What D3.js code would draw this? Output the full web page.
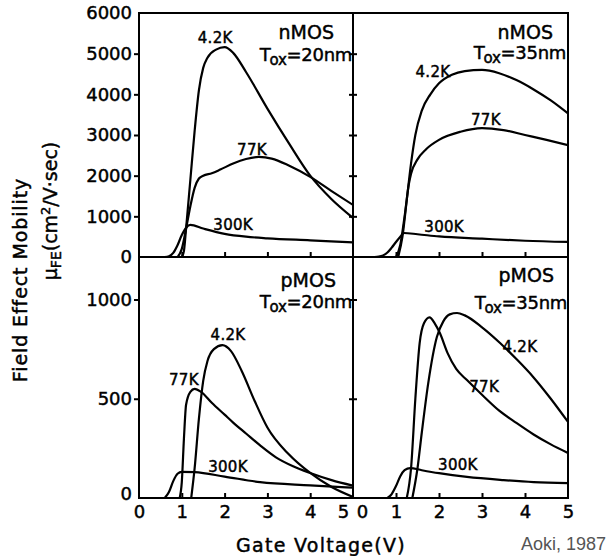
<!DOCTYPE html>
<html>
<head>
<meta charset="utf-8">
<script src="https://cdn.jsdelivr.net/npm/d3@7"></script>
<style>
  html, body { margin: 0; padding: 0; background: #fff; }
  svg { display: block; }
  text { font-family: "DejaVu Sans", sans-serif; fill: #000; }
  text.ink { stroke: #000; stroke-width: 0.45px; }
</style>
</head>
<body>
<svg id="chart" width="611" height="556"></svg>
<script>
// ---------------- DATA (Gate voltage V, mobility cm^2/V·s) ----------------
const xTicks = [0, 1, 2, 3, 4, 5];
const yTicksN = [0, 1000, 2000, 3000, 4000, 5000, 6000];
const yTicksP = [0, 500, 1000];

// nMOS, Tox = 20 nm
const n20_4K = [[1.0,0],[1.05,150],[1.1,700],[1.2,1900],[1.3,3100],[1.4,4100],[1.5,4650],[1.6,4900],[1.8,5100],[2.0,5160],[2.2,5020],[2.5,4550],[3.0,3650],[3.5,2800],[4.0,2000],[4.5,1420],[5.0,960]];
const n20_77K = [[0.9,0],[1.0,200],[1.1,700],[1.2,1250],[1.3,1700],[1.4,1930],[1.5,2000],[1.7,2060],[1.9,2150],[2.2,2300],[2.5,2410],[2.8,2460],[3.1,2420],[3.5,2250],[4.0,1970],[4.5,1620],[5.0,1280]];
const n20_300K = [[0.6,0],[0.7,20],[0.8,100],[0.9,290],[1.0,540],[1.1,720],[1.2,790],[1.5,700],[2.0,570],[2.5,500],[3.0,460],[4.0,410],[5.0,360]];

// nMOS, Tox = 35 nm
const n35_4K = [[1.05,0],[1.15,500],[1.25,1400],[1.35,2300],[1.45,3000],[1.6,3600],[1.8,4000],[2.0,4270],[2.3,4480],[2.6,4570],[3.0,4600],[3.4,4520],[3.8,4350],[4.2,4120],[4.6,3850],[5.0,3530]];
const n35_77K = [[1.0,0],[1.1,300],[1.2,1000],[1.3,1800],[1.35,2050],[1.5,2400],[1.7,2650],[2.0,2880],[2.5,3080],[3.0,3170],[3.5,3120],[4.0,3000],[4.5,2880],[5.0,2750]];
const n35_300K = [[0.5,0],[0.6,10],[0.7,40],[0.8,110],[0.9,230],[1.0,370],[1.1,500],[1.18,590],[1.5,560],[2.0,505],[3.0,450],[4.0,400],[5.0,370]];

// pMOS, Tox = 20 nm
const p20_4K = [[1.22,0],[1.3,150],[1.4,400],[1.5,590],[1.6,690],[1.75,750],[1.95,770],[2.15,740],[2.4,640],[2.7,490],[3.0,355],[3.5,220],[4.0,126],[4.5,55],[5.0,5]];
const p20_77K = [[0.95,0],[1.0,80],[1.05,300],[1.1,470],[1.2,535],[1.3,550],[1.45,535],[1.7,480],[2.0,420],[2.2,380],[2.5,325],[2.83,265],[3.2,205],[3.6,160],[4.0,126],[4.5,90],[5.0,62]];
const p20_300K = [[0.6,0],[0.7,30],[0.8,85],[0.9,122],[1.0,132],[1.3,130],[2.0,108],[2.83,80],[4.0,64],[5.0,52]];

// pMOS, Tox = 35 nm
const p35_4K = [[1.38,0],[1.5,150],[1.6,330],[1.75,579],[1.95,811],[2.1,890],[2.25,925],[2.42,932],[2.6,920],[3.0,860],[3.42,781],[3.8,700],[4.19,610],[4.6,500],[5.0,383]];
const p35_77K = [[1.25,0],[1.35,150],[1.45,500],[1.55,780],[1.65,880],[1.78,910],[1.9,880],[2.02,831],[2.2,730],[2.4,650],[2.65,594],[3.0,520],[3.4,440],[3.8,378],[4.2,320],[4.6,270],[5.0,227]];
const p35_300K = [[0.8,0],[0.9,20],[1.0,60],[1.1,110],[1.2,140],[1.33,151],[1.6,140],[2.0,125],[2.65,106],[3.5,90],[4.2,80],[5.0,75]];

// curve labels: [text, V, mobility]
const labelsN20 = [["4.2K",1.78,5380],["77K",2.64,2630],["300K",2.2,786]];
const labelsN35 = [["4.2K",1.86,4545],["77K",3.09,3370],["300K",2.12,737]];
const labelsP20 = [["4.2K",2.08,821],["77K",1.05,594],["300K",2.08,156]];
const labelsP35 = [["4.2K",3.88,761],["77K",3.05,559],["300K",2.44,166]];

// ---------------- LAYOUT ----------------
const svg = d3.select("#chart");
const L = 139, M = 353, R = 568, T = 13, Z = 257, B = 498;

const xLeft = d3.scaleLinear().domain([0, 5]).range([L, M]);
const xRight = d3.scaleLinear().domain([0, 5]).range([M, R]);
const yN = d3.scaleLinear().domain([0, 6000]).range([Z, T]);
const yP = d3.scaleLinear().domain([0, 1000]).range([B, 299.5]);

const panels = [
  {x: xLeft,  y: yN, series: [n20_4K, n20_77K, n20_300K], labels: labelsN20, x0: L, x1: M, y0: T, y1: Z},
  {x: xRight, y: yN, series: [n35_4K, n35_77K, n35_300K], labels: labelsN35, x0: M, x1: R, y0: T, y1: Z},
  {x: xLeft,  y: yP, series: [p20_4K, p20_77K, p20_300K], labels: labelsP20, x0: L, x1: M, y0: Z, y1: B},
  {x: xRight, y: yP, series: [p35_4K, p35_77K, p35_300K], labels: labelsP35, x0: M, x1: R, y0: Z, y1: B}
];

const defs = svg.append("defs");
panels.forEach((p, i) => {
  defs.append("clipPath").attr("id", "clip" + i)
    .append("rect").attr("x", p.x0).attr("y", p.y0 - 2)
    .attr("width", p.x1 - p.x0).attr("height", p.y1 - p.y0 + 2);
});

// curves
panels.forEach((p, i) => {
  const line = d3.line().x(d => p.x(d[0])).y(d => p.y(d[1])).curve(d3.curveMonotoneX);
  const g = svg.append("g").attr("clip-path", `url(#clip${i})`);
  p.series.forEach(s => {
    g.append("path").attr("d", line(s))
      .attr("fill", "none").attr("stroke", "#000").attr("stroke-width", 2.2)
      .attr("stroke-linejoin", "round").attr("stroke-linecap", "round");
  });
  p.labels.forEach(([t, v, m]) => {
    svg.append("text").attr("class", "ink").attr("x", p.x(v)).attr("y", p.y(m))
      .attr("text-anchor", "middle").attr("dominant-baseline", "central")
      .attr("font-size", 15).attr("letter-spacing", 0.3).text(t);
  });
});

// ---------------- AXES ----------------
function styleAxis(g) {
  g.select(".domain").remove();
  g.selectAll("line").attr("stroke", "#000").attr("stroke-width", 2);
  g.selectAll("text").attr("class", "ink").attr("font-family", "DejaVu Sans, sans-serif")
    .attr("font-size", 18).attr("fill", "#000");
}

// left y axes
svg.append("g").attr("transform", `translate(${L},0)`)
  .call(d3.axisLeft(yN).tickValues(yTicksN).tickFormat(d3.format("d")).tickSize(5).tickPadding(2))
  .call(styleAxis)
  .call(g => g.selectAll(".tick").filter(d => d === 0 || d === 6000).select("line").remove());
svg.append("g").attr("transform", `translate(${L},0)`)
  .call(d3.axisLeft(yP).tickValues(yTicksP).tickFormat(d3.format("d")).tickSize(5).tickPadding(2))
  .call(styleAxis)
  .call(g => g.selectAll(".tick").filter(d => d === 0).select("line").remove())
  .call(g => g.selectAll(".tick").filter(d => d === 0).select("text").attr("dy", "0.1em"));

// divider ticks (both sides)
[d3.axisLeft, d3.axisRight].forEach(ax => {
  svg.append("g").attr("transform", `translate(${M},0)`)
    .call(ax(yN).tickValues(yTicksN.filter(d => d > 0 && d < 6000)).tickFormat("").tickSize(4))
    .call(styleAxis);
  svg.append("g").attr("transform", `translate(${M},0)`)
    .call(ax(yP).tickValues([500, 1000]).tickFormat("").tickSize(4))
    .call(styleAxis);
});

// x axes (inward ticks)
[xLeft, xRight].forEach((xs, idx) => {
  svg.append("g").attr("transform", `translate(0,${B})`)
    .call(d3.axisBottom(xs).tickValues(xTicks).tickFormat(d3.format("d")).tickSizeInner(-5).tickSizeOuter(0).tickPadding(6))
    .call(styleAxis)
    .call(g => g.selectAll(".tick").filter(d => d === 0 || d === 5).select("line").remove())
    .call(g => g.selectAll(".tick text").attr("y", 7))
    .call(g => {
      if (idx === 0) g.selectAll(".tick").filter(d => d === 5).select("text").attr("dx", -10);
      else g.selectAll(".tick").filter(d => d === 0).select("text").attr("dx", 9);
    });
  svg.append("g").attr("transform", `translate(0,${Z})`)
    .call(d3.axisBottom(xs).tickValues([1, 2, 3, 4]).tickFormat("").tickSizeInner(-5).tickSizeOuter(0))
    .call(styleAxis);
});

// frames
const frame = svg.append("g").attr("stroke", "#000").attr("stroke-width", 2).attr("fill", "none");
frame.append("rect").attr("x", L).attr("y", T).attr("width", R - L).attr("height", B - T);
frame.append("line").attr("x1", L).attr("x2", R).attr("y1", Z).attr("y2", Z);
frame.append("line").attr("x1", M).attr("x2", M).attr("y1", T).attr("y2", B);

// ---------------- PANEL TITLES ----------------
function tox(x, y, val) {
  const t = svg.append("text").attr("class", "ink").attr("x", x).attr("y", y).attr("text-anchor", "end")
    .attr("font-size", 18).attr("letter-spacing", -0.3);
  t.append("tspan").text("T");
  t.append("tspan").attr("font-size", 15).attr("dy", 4).attr("dx", -1).text("ox");
  t.append("tspan").attr("dy", -4).text("=" + val + "nm");
}
function title(x, y, s) {
  svg.append("text").attr("class", "ink").attr("x", x).attr("y", y).attr("text-anchor", "end")
    .attr("font-size", 19).text(s);
}
title(334, 39, "nMOS"); tox(352, 61, "20");
title(553, 39, "nMOS"); tox(566, 59, "35");
title(336, 287, "pMOS"); tox(352, 308, "20");
title(554, 282, "pMOS"); tox(567, 309, "35");

// ---------------- AXIS TITLES ----------------
svg.append("text").attr("class", "ink").attr("transform", "translate(27,280) rotate(-90)")
  .attr("text-anchor", "middle").attr("font-size", 19).attr("letter-spacing", 0.9)
  .text("Field Effect Mobility");
const yt2 = svg.append("text").attr("class", "ink").attr("transform", "translate(57,211) rotate(-90)")
  .attr("text-anchor", "middle").attr("font-size", 19);
yt2.append("tspan").text("\u03BC");
yt2.append("tspan").attr("font-size", 14).attr("dy", 4).text("FE");
yt2.append("tspan").attr("dy", -4).text("(cm");
yt2.append("tspan").attr("font-size", 13).attr("dy", -7).text("2");
yt2.append("tspan").attr("dy", 7).text("/V\u00B7sec)");

svg.append("text").attr("class", "ink").attr("x", 321).attr("y", 552).attr("text-anchor", "middle")
  .attr("font-size", 19).attr("letter-spacing", 1.3).text("Gate Voltage(V)");

svg.append("text").attr("x", 606).attr("y", 550).attr("text-anchor", "end")
  .style("font-family", "'Liberation Sans', Arial, sans-serif").style("fill", "#555")
  .attr("font-size", 18).text("Aoki, 1987");
</script>
</body>
</html>
